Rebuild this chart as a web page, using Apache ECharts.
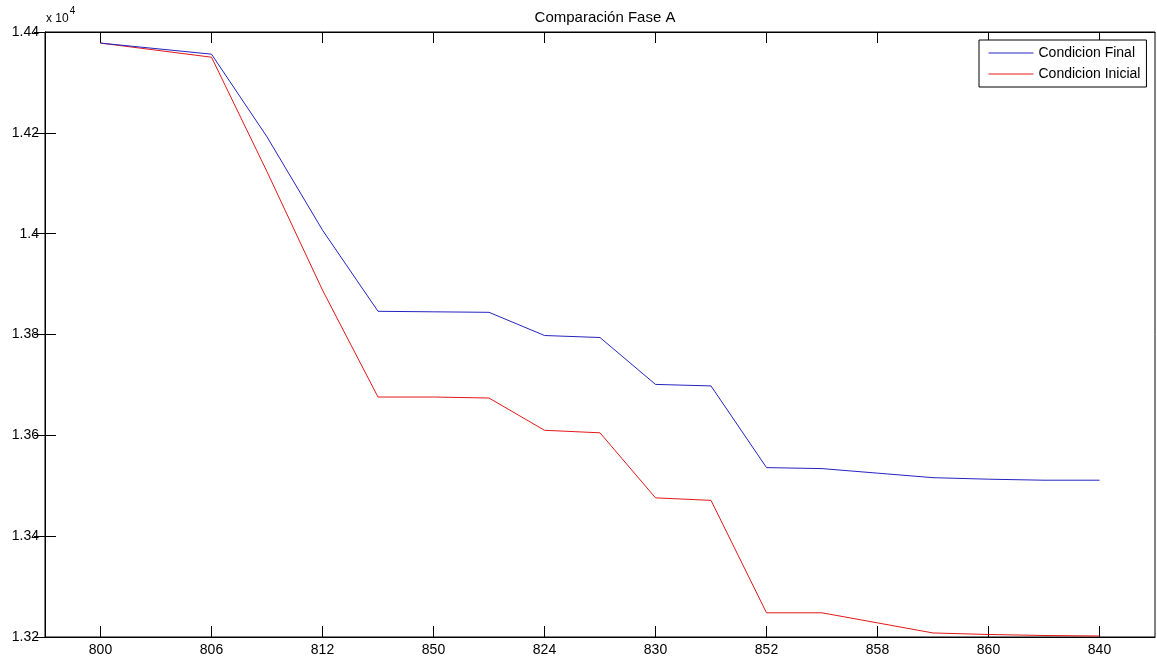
<!DOCTYPE html>
<html>
<head>
<meta charset="utf-8">
<script src="https://cdn.jsdelivr.net/npm/echarts@6/dist/echarts.min.js"></script>
<style>
html,body{margin:0;padding:0;background:#fff;}
#chart{width:1157px;height:663px;}
</style>
</head>
<body>
<div id="chart"></div>
<script>
// Tick labels (node names) placed at odd positions 1,3,...,19
const tickLabels = ['800','806','812','850','824','830','852','858','860','840'];
const tickPositions = [1,3,5,7,9,11,13,15,17,19];
// Sample positions along the feeder
const pointIndex = [1,2,3,4,5,6,7,8,9,10,11,12,13,14,15,16,17,18,19];
// Series values
const condicionFinal = [14378,14367,14356,14192,14007,13846,13845,13844,13798,13794,13701,13698,13536,13534,13525,13516,13513,13511,13511];
const condicionInicial = [14378,14364,14350,14123,13888,13676,13676,13674,13610,13605,13476,13471,13248,13248,13228,13208,13205,13203,13202];
const yTicks = [13200,13400,13600,13800,14000,14200,14400];

const font = 'Liberation Sans, Arial, sans-serif';
const chart = echarts.init(document.getElementById('chart'), null, {renderer:'canvas'});

function pairs(vals){ return pointIndex.map((x,i)=>[x, vals[i]]); }
function yFmt(v){ return String(parseFloat((v/10000).toFixed(4))); }
function xFmt(v){ const k = tickPositions.indexOf(Math.round(v)); return k>=0 ? tickLabels[k] : ''; }

const axisLineStyle = {show:true, lineStyle:{color:'#000', width:1}};

chart.setOption({
  animation:false,
  backgroundColor:'#fff',
  title:{
    text:'Comparación Fase A',
    left:600, top:5, textAlign:'center',
    textStyle:{fontFamily:font, fontSize:15, fontWeight:'normal', color:'#000'}
  },
  graphic:[{
    type:'text', left:46, top:6,
    style:{
      text:'{a|x 10}{s|4}',
      rich:{
        a:{fontFamily:font, fontSize:12, fill:'#000', padding:[7,0,0,0]},
        s:{fontFamily:font, fontSize:10, fill:'#000', verticalAlign:'top', padding:[0,0,0,1]}
      }
    }
  }],
  legend:{
    orient:'vertical',
    left:979, top:40,
    backgroundColor:'#fff',
    borderColor:'#000', borderWidth:1, borderRadius:0,
    padding:[6,6,6,9],
    itemWidth:45, itemHeight:16, itemGap:7,
    itemStyle:{opacity:0},
    lineStyle:{width:1},
    textStyle:{fontFamily:font, fontSize:14, color:'#000'},
    data:['Condicion Final','Condicion Inicial']
  },
  grid:{left:45, right:2, top:32, bottom:26, containLabel:false,
        show:true, borderColor:'#000', borderWidth:1, backgroundColor:'#fff'},
  xAxis:[{
    type:'value', min:0, max:20, position:'bottom',
    axisLine:axisLineStyle,
    axisTick:{show:true, inside:true, length:11, customValues:tickPositions, lineStyle:{color:'#000'}},
    axisLabel:{show:true, customValues:tickPositions, formatter:xFmt, margin:6,
               fontFamily:font, fontSize:14, color:'#000'},
    splitLine:{show:false}
  },{
    type:'value', min:0, max:20, position:'top',
    axisLine:axisLineStyle,
    axisTick:{show:true, inside:true, length:11, customValues:tickPositions, lineStyle:{color:'#000'}},
    axisLabel:{show:false},
    splitLine:{show:false}
  }],
  yAxis:[{
    type:'value', min:13200, max:14400, interval:200, position:'left',
    axisLine:axisLineStyle,
    axisTick:{show:true, inside:true, length:11, lineStyle:{color:'#000'}},
    axisLabel:{show:true, formatter:yFmt, margin:6, fontFamily:font, fontSize:14, color:'#000'},
    splitLine:{show:false}
  },{
    type:'value', min:13200, max:14400, interval:200, position:'right',
    axisLine:axisLineStyle,
    axisTick:{show:true, inside:true, length:11, lineStyle:{color:'#000'}},
    axisLabel:{show:false},
    splitLine:{show:false}
  }],
  series:[{
    name:'Condicion Final', type:'line', symbol:'none', xAxisIndex:0, yAxisIndex:0,
    lineStyle:{color:'#2424c0', width:1}, itemStyle:{color:'#2424c0'},
    data:pairs(condicionFinal), z:3
  },{
    name:'Condicion Inicial', type:'line', symbol:'none', xAxisIndex:0, yAxisIndex:0,
    lineStyle:{color:'#e01818', width:1}, itemStyle:{color:'#e01818'},
    data:pairs(condicionInicial), z:2
  }]
});
</script>
</body>
</html>
